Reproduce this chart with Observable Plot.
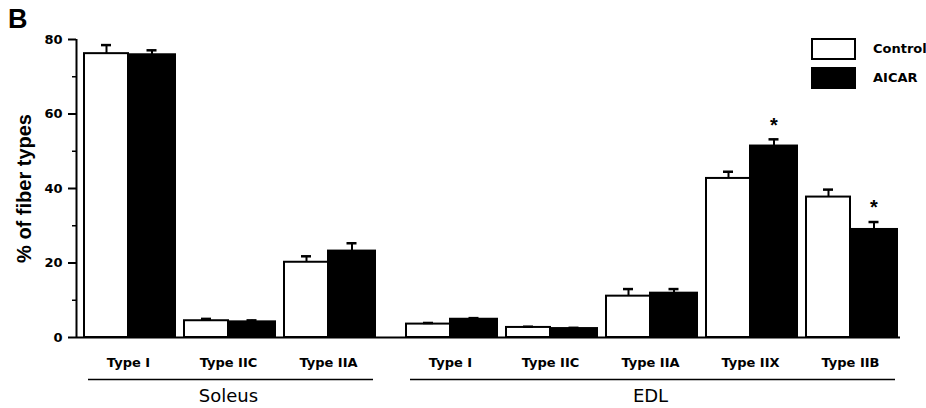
<!DOCTYPE html>
<html><head><meta charset="utf-8">
<script src="https://cdn.jsdelivr.net/npm/d3@7"></script>
<script src="https://cdn.jsdelivr.net/npm/@observablehq/plot@0.6"></script>
<style>
body{margin:0;background:#fff;font-family:"Liberation Sans",Arial,sans-serif;}
#wrap{position:relative;width:926px;height:408px;overflow:hidden;}
#wrap svg{position:absolute;left:0;top:0;}
#panel{position:absolute;left:8px;top:4px;font-size:27px;font-weight:bold;z-index:2;}
#legend{position:absolute;left:811px;top:34px;font-family:"DejaVu Sans",sans-serif;font-size:13px;font-weight:bold;z-index:2;}
.item{display:flex;align-items:center;height:29px;}
.sw{width:45px;height:22px;box-sizing:border-box;border:2px solid #000;margin-right:17px;}
</style></head>
<body><div id="wrap"><div id="panel">B</div><div id="legend"></div></div>
<script>
// ---- data ----
const muscles = ["Soleus","Soleus","Soleus","EDL","EDL","EDL","EDL","EDL"];
const fiberTypes = ["Type I","Type IIC","Type IIA","Type I","Type IIC","Type IIA","Type IIX","Type IIB"];
const controlMean = [76.2, 4.5, 20.2, 3.6, 2.7, 11.1, 42.7, 37.7];
const controlSEM  = [2.3, 0.5, 1.6, 0.3, 0.2, 1.9, 1.8, 2.0];
const aicarMean   = [75.9, 4.2, 23.2, 4.9, 2.4, 11.9, 51.4, 29.0];
const aicarSEM    = [1.2, 0.4, 2.1, 0.3, 0.2, 1.1, 1.8, 2.0];
const aicarSignificant = [false,false,false,false,false,false,true,true];
const seriesNames = ["Control","AICAR"];
const seriesFill = ["#fff","#000"];
const groupNames = ["Soleus","EDL"];
const yTicks = [0,20,40,60,80];
const yMinorTicks = [10,30,50,70];

// ---- layout helpers ----
const groupGap = 0.22;
const slotOf = i => i + (muscles[i] === "EDL" ? groupGap : 0);
const xDomain = [-0.52, 7.72];
const ctrlW = 0.44, aicW = 0.47;
const tickFont = '"DejaVu Sans", sans-serif';

const rows = fiberTypes.map((t, i) => ({i, type: t, muscle: muscles[i], slot: slotOf(i)}));
const bars = [];
rows.forEach(r => {
  bars.push({...r, series: "Control", x1: r.slot - ctrlW, x2: r.slot, mean: controlMean[r.i], sem: controlSEM[r.i], sig: false});
  bars.push({...r, series: "AICAR", x1: r.slot, x2: r.slot + aicW, mean: aicarMean[r.i], sem: aicarSEM[r.i], sig: aicarSignificant[r.i]});
});
bars.forEach(b => b.cx = (b.x1 + b.x2) / 2);

const groups = groupNames.map(g => {
  const s = rows.filter(r => r.muscle === g).map(r => r.slot);
  return {name: g, lo: d3.min(s) - 0.4, hi: d3.max(s) + 0.45, mid: (d3.min(s) + d3.max(s)) / 2};
});

const chart = Plot.plot({
  width: 926, height: 408,
  marginTop: 39, marginBottom: 71, marginLeft: 76, marginRight: 26,
  style: {fontFamily: '"Liberation Sans", Arial, sans-serif', fontSize: "14px", color: "#000", background: "#fff"},
  x: {domain: xDomain, axis: null},
  y: {domain: [0, 80], axis: null},
  marks: [
    Plot.rectY(bars, {x1: "x1", x2: "x2", y: "mean", fill: d => d.series === "Control" ? seriesFill[0] : seriesFill[1], stroke: "#000", strokeWidth: 2}),
    Plot.ruleX(bars, {x: "cx", y1: "mean", y2: d => d.mean + d.sem, stroke: "#000", strokeWidth: 2}),
    Plot.ruleY(bars, {y: d => d.mean + d.sem, x1: d => d.cx - 0.05, x2: d => d.cx + 0.05, stroke: "#000", strokeWidth: 2.5}),
    Plot.text(bars.filter(d => d.sig), {x: "cx", y: d => d.mean + d.sem, text: () => "*", dy: -14, fontSize: 20, fontWeight: "bold"}),
    Plot.ruleY([0], {stroke: "#000", strokeWidth: 2}),
    Plot.ruleX([xDomain[0]], {y1: 0, y2: 80, stroke: "#000", strokeWidth: 2}),
    Plot.axisY({ticks: yTicks, tickSize: 8, tickPadding: 6, tickFormat: d => String(d), fontSize: 13, fontFamily: tickFont, fontWeight: "bold", strokeWidth: 2, label: null}),
    Plot.axisY({ticks: yMinorTicks, tickSize: 4, text: null, strokeWidth: 1.5, label: null}),
    Plot.text(rows, {x: "slot", y: () => 0, text: "type", dy: 25, fontSize: 13, fontFamily: tickFont, fontWeight: "bold"}),
    Plot.ruleY(groups, {y: () => 0, x1: "lo", x2: "hi", dy: 42, stroke: "#000", strokeWidth: 1.5}),
    Plot.text(groups, {x: "mid", y: () => 0, text: "name", dy: 59, fontSize: 18, fontFamily: tickFont}),
    Plot.text(["% of fiber types"], {x: xDomain[0], y: () => 40, text: d => d, rotate: -90, dx: -52, fontSize: 20, fontWeight: "bold"})
  ]
});
document.getElementById("wrap").appendChild(chart);

const legend = document.getElementById("legend");
seriesNames.forEach((n, k) => {
  const it = document.createElement("div"); it.className = "item";
  const sw = document.createElement("div"); sw.className = "sw"; sw.style.background = seriesFill[k];
  const tx = document.createElement("span"); tx.textContent = n;
  it.appendChild(sw); it.appendChild(tx); legend.appendChild(it);
});
</script>
</body></html>
